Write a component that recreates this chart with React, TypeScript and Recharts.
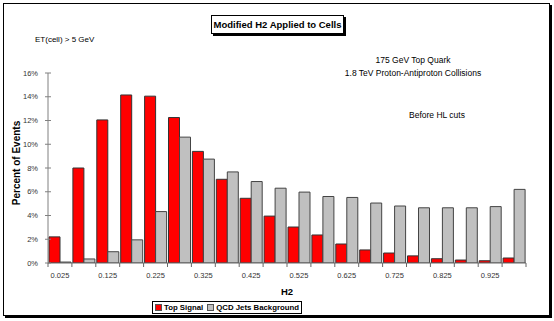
import React from 'react';
import { BarChart, Bar, XAxis, YAxis } from 'recharts';

const categories = ['0.025','0.075','0.125','0.175','0.225','0.275','0.325','0.375','0.425','0.475','0.525','0.575','0.625','0.675','0.725','0.775','0.825','0.875','0.925','0.975'];
const topSignal = [2.2, 8.0, 12.05, 14.15, 14.05, 12.25, 9.4, 7.05, 5.45, 3.95, 3.03, 2.36, 1.6, 1.1, 0.84, 0.6, 0.36, 0.25, 0.19, 0.42];
const qcdBackground = [0.08, 0.34, 0.95, 1.95, 4.33, 10.6, 8.75, 7.67, 6.86, 6.3, 5.97, 5.6, 5.52, 5.05, 4.8, 4.65, 4.65, 4.65, 4.75, 6.2];
const yTicks = [0, 2, 4, 6, 8, 10, 12, 14, 16];
const seriesNames = ['Top Signal', 'QCD Jets Background'];
const seriesColors = ['#FF0000', '#C0C0C0'];

const data = categories.map((c, i) => ({ h2: c, top: topSignal[i], qcd: qcdBackground[i] }));

const W = 554;
const H = 321;
const PLOT_LEFT = 48;
const PLOT_RIGHT = 526;
const PLOT_TOP = 73;
const PLOT_BOTTOM = 263;
const BW = (PLOT_RIGHT - PLOT_LEFT) / categories.length;
const FONT = '"Liberation Sans", Arial, sans-serif';

const XTick = (props: any) => {
  const { x, y, payload, index } = props;
  const last = index === categories.length - 1;
  return (
    <g>
      <line x1={x - BW / 2} y1={y} x2={x - BW / 2} y2={y + 4} stroke="#666" />
      {last && <line x1={x + BW / 2} y1={y} x2={x + BW / 2} y2={y + 4} stroke="#666" />}
      {index % 2 === 0 && (
        <text x={x} y={y + 15} textAnchor="middle" fontSize={7.5} fill="#333" fontFamily={FONT}>
          {payload.value}
        </text>
      )}
    </g>
  );
};

const YTick = (props: any) => {
  const { x, y, payload } = props;
  return (
    <g>
      <line x1={x - 3} y1={y} x2={x + 3} y2={y} stroke="#808080" />
      <text x={x - 10} y={y} dy="0.35em" textAnchor="end" fontSize={7.5} fill="#333" fontFamily={FONT}>
        {`${payload.value}%`}
      </text>
    </g>
  );
};

export default function App() {
  return (
    <div style={{ position: 'absolute', left: 0, top: 0, width: W, height: H, background: '#fff', fontFamily: FONT }}>
      <div style={{ position: 'absolute', left: 3, top: 3, width: 545, height: 311, border: '1px solid #000', boxShadow: '2px 2px 0 #000' }} />
      <div style={{ position: 'absolute', left: 0, top: 0 }}>
        <BarChart
          width={W}
          height={H}
          data={data}
          margin={{ top: PLOT_TOP, right: W - PLOT_RIGHT, bottom: H - PLOT_BOTTOM - 30, left: 0 }}
          barCategoryGap={1}
          barGap={0}
        >
          <YAxis
            width={PLOT_LEFT}
            domain={[0, 16]}
            ticks={yTicks}
            tick={<YTick />}
            axisLine={{ stroke: '#808080' }}
            tickLine={false}
            tickSize={0}
            tickMargin={0}
            allowDataOverflow
          />
          <XAxis
            dataKey="h2"
            height={30}
            interval={0}
            tickSize={0}
            tickMargin={0}
            tickLine={false}
            axisLine={{ stroke: '#666' }}
            tick={<XTick />}
          />
          <Bar dataKey="top" name={seriesNames[0]} fill={seriesColors[0]} stroke="#333" strokeWidth={1} isAnimationActive={false} />
          <Bar dataKey="qcd" name={seriesNames[1]} fill={seriesColors[1]} stroke="#444" strokeWidth={1} isAnimationActive={false} />
        </BarChart>
      </div>
      <div style={{ position: 'absolute', left: 211, top: 15, width: 131, height: 17, border: '1px solid #000', boxShadow: '2px 2px 0 #000', background: '#fff', fontSize: 9.5, fontWeight: 'bold', textAlign: 'center', lineHeight: '17px', whiteSpace: 'nowrap' }}>
        Modified H2 Applied to Cells
      </div>
      <div style={{ position: 'absolute', left: 35, top: 35, fontSize: 8, whiteSpace: 'nowrap' }}>ET(cell) &gt; 5 GeV</div>
      <div style={{ position: 'absolute', left: 313, top: 54, width: 200, fontSize: 8.5, textAlign: 'center', lineHeight: '13px', whiteSpace: 'nowrap' }}>
        175 GeV Top Quark<br />1.8 TeV Proton-Antiproton Collisions
      </div>
      <div style={{ position: 'absolute', left: 409, top: 110, fontSize: 8.5, whiteSpace: 'nowrap' }}>Before HL cuts</div>
      <div style={{ position: 'absolute', left: 16, top: 163, transform: 'translate(-50%, -50%) rotate(-90deg)', fontSize: 10, fontWeight: 'bold', whiteSpace: 'nowrap' }}>
        Percent of Events
      </div>
      <div style={{ position: 'absolute', left: 287, top: 291, transform: 'translate(-50%, -50%)', fontSize: 9.5, fontWeight: 'bold' }}>H2</div>
      <div style={{ position: 'absolute', left: 152, top: 301, width: 148, height: 11, border: '1px solid #000', display: 'flex', alignItems: 'center', justifyContent: 'center', fontSize: 7.8, fontWeight: 'bold', whiteSpace: 'nowrap', background: '#fff' }}>
        {seriesNames.map((n, i) => (
          <span key={n} style={{ display: 'inline-flex', alignItems: 'center', marginRight: i === 0 ? 4 : 0 }}>
            <span style={{ display: 'inline-block', width: 5, height: 5, background: seriesColors[i], border: '1px solid #555', marginRight: 2 }} />
            {n}
          </span>
        ))}
      </div>
    </div>
  );
}
